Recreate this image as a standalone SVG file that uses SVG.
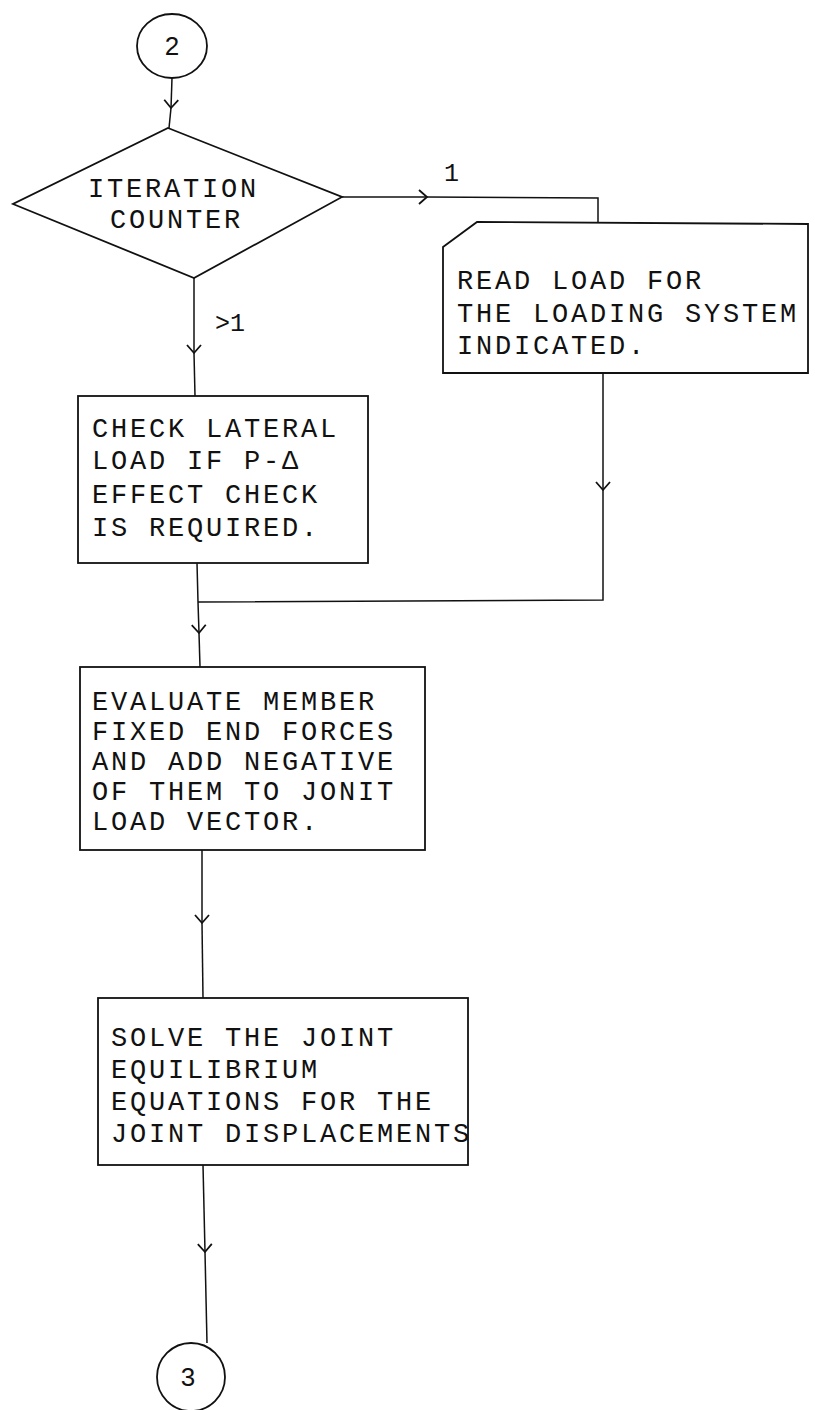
<svg xmlns="http://www.w3.org/2000/svg" width="815" height="1410" viewBox="0 0 815 1410">
<style>
.shape{fill:none;stroke:#111;stroke-width:1.8}
.conn{fill:none;stroke:#111;stroke-width:1.5}
.t{font-family:"Liberation Mono","Courier New",monospace;font-size:27px;letter-spacing:2.8px;fill:#111}
.lbl{font-family:"Liberation Mono","Courier New",monospace;font-size:25px;fill:#111}
.num{font-family:"Liberation Sans",Arial,sans-serif;font-size:26px;fill:#111;text-anchor:middle}
</style>
<defs>
<marker id="v" markerWidth="20" markerHeight="20" refX="10" refY="10" orient="auto" markerUnits="userSpaceOnUse">
<path d="M2,3 L10,10 L2,17" fill="none" stroke="#111" stroke-width="1.8"/>
</marker>
</defs>
<g id="connectors">
<path class="conn" d="M172,78 L171,108" marker-end="url(#v)"/>
<path class="conn" d="M171,108 L169,128"/>
<path class="conn" d="M342,197 L427,197" marker-end="url(#v)"/>
<path class="conn" d="M427,197 L598,198 L598,222"/>
<path class="conn" d="M194,278 L194,353" marker-end="url(#v)"/>
<path class="conn" d="M194,353 L195,396"/>
<path class="conn" d="M603,373 L603,490" marker-end="url(#v)"/>
<path class="conn" d="M603,490 L603,600 L198,602"/>
<path class="conn" d="M197,563 L198,602 L199,633" marker-end="url(#v)"/>
<path class="conn" d="M199,633 L200,667"/>
<path class="conn" d="M202,850 L202,923" marker-end="url(#v)"/>
<path class="conn" d="M202,923 L203,998"/>
<path class="conn" d="M203,1165 L205,1252" marker-end="url(#v)"/>
<path class="conn" d="M205,1252 L207,1343"/>
</g>
<g id="c2">
<ellipse class="shape" cx="172" cy="46" rx="35" ry="32"/>
<text class="num" x="172" y="55">2</text>
</g>
<g id="iter">
<polygon class="shape" points="168,128 342,197 194,278 13,204" stroke-width="2.2"/>
<text class="t" x="88" y="197">ITERATION</text>
<text class="t" x="110" y="228">COUNTER</text>
</g>
<g id="lbl1"><text class="lbl" x="444" y="181">1</text></g>
<g id="lblgt1"><text class="lbl" x="215" y="331">&gt;1</text></g>
<g id="read">
<path class="shape" d="M477,222 L808,224 L808,373 L443,373 L443,247 Z"/>
<text class="t" x="457" y="289">READ LOAD FOR</text>
<text class="t" x="457" y="322">THE LOADING SYSTEM</text>
<text class="t" x="457" y="354">INDICATED.</text>
</g>
<g id="check">
<rect class="shape" x="78" y="396" width="290" height="167"/>
<text class="t" x="92" y="437">CHECK LATERAL</text>
<text class="t" x="92" y="469">LOAD IF P-Δ</text>
<text class="t" x="92" y="503">EFFECT CHECK</text>
<text class="t" x="92" y="536">IS REQUIRED.</text>
</g>
<g id="evaluate">
<rect class="shape" x="80" y="667" width="345" height="183"/>
<text class="t" x="92" y="710">EVALUATE MEMBER</text>
<text class="t" x="92" y="740">FIXED END FORCES</text>
<text class="t" x="92" y="770">AND ADD NEGATIVE</text>
<text class="t" x="92" y="800">OF THEM TO JONIT</text>
<text class="t" x="92" y="830">LOAD VECTOR.</text>
</g>
<g id="solve">
<rect class="shape" x="98" y="998" width="370" height="167"/>
<text class="t" x="111" y="1046">SOLVE THE JOINT</text>
<text class="t" x="111" y="1078">EQUILIBRIUM</text>
<text class="t" x="111" y="1110">EQUATIONS FOR THE</text>
<text class="t" x="111" y="1142">JOINT DISPLACEMENTS</text>
</g>
<g id="c3">
<circle class="shape" cx="191" cy="1377" r="34"/>
<text class="num" x="188" y="1386">3</text>
</g>
</svg>
